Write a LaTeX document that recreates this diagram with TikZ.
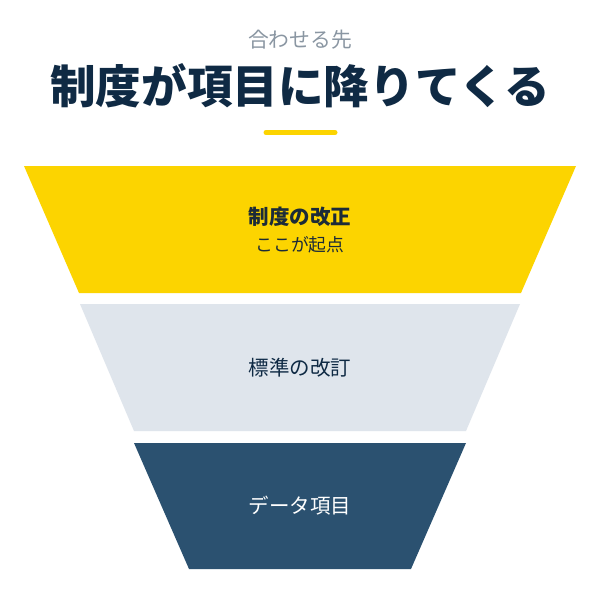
\documentclass[tikz,border=0pt]{standalone}
\usepackage{fontspec}
\setmainfont{Noto Sans CJK JP}
\newfontfamily\jpfont{Noto Sans CJK JP}
\definecolor{fyellow}{HTML}{FCD400}
\definecolor{fgray}{HTML}{DFE5EC}
\definecolor{fnavy}{HTML}{2B5170}
\definecolor{tnavy}{HTML}{0F2A44}
\definecolor{subgray}{HTML}{8A96A2}
\definecolor{ink}{HTML}{1C2B38}
\begin{document}
\begin{tikzpicture}[x=1pt,y=-1pt,
  lbl/.style={inner sep=0pt,font=\jpfont\fontsize{20.5}{24}\selectfont},
  layer/.style={draw=none}]
\useasboundingbox (0,0) rectangle (600,600);
\fill[white] (0,0) rectangle (600,600);
\node[inner sep=0pt,text=subgray,font=\jpfont\fontsize{20.8}{24}\selectfont] (sub) at (300,40) {合わせる先};
\node[inner sep=0pt,text=tnavy,font=\jpfont\bfseries\fontsize{45.6}{54}\selectfont] (title) at (300,86) {制度が項目に降りてくる};
\coordinate (ul1) at (266,132.5);
\coordinate (ul2) at (335,132.5);
\draw[fyellow,line width=5pt,line cap=round] (ul1) -- (ul2);
\fill[fyellow,layer] (24,166) -- (576,166) -- (521,293) -- (79,293) -- cycle;
\fill[fgray,layer] (80,304) -- (520,304) -- (466,431) -- (134,431) -- cycle;
\fill[fnavy,layer] (134,443) -- (466,443) -- (411,569) -- (189,569) -- cycle;
\node[lbl,text=ink,font=\jpfont\bfseries\fontsize{20.5}{24}\selectfont] (l1a) at (300,217) {制度の改正};
\node[lbl,text=ink,font=\jpfont\fontsize{17.8}{21}\selectfont] (l1b) at (300,245) {ここが起点};
\node[lbl,text=tnavy] (l2) at (300,368) {標準の改訂};
\node[lbl,text=white] (l3) at (300,506) {データ項目};
\end{tikzpicture}
\end{document}
